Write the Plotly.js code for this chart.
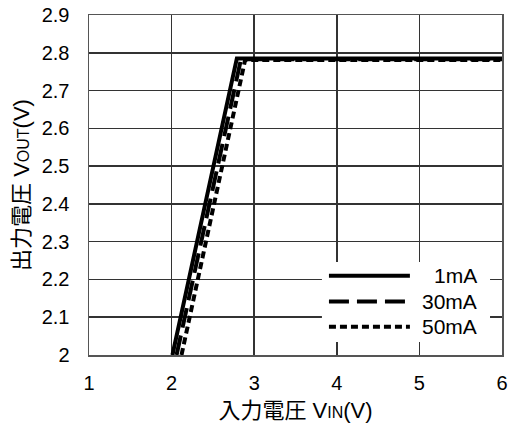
<!DOCTYPE html>
<html>
<head>
<meta charset="utf-8">
<script src="https://cdn.plot.ly/plotly-3.0.1.min.js"></script>
<style>html,body{margin:0;padding:0;background:#fff;}#chart{width:510px;height:432px;}</style>
</head>
<body>
<div id="chart"></div>
<script>
// Data
const seriesNames = ["1mA", "30mA", "50mA"];
const vin_1mA = [2.01, 2.79, 6.0];
const vout_1mA = [2.0, 2.785, 2.785];
const vin_30mA = [2.06, 2.84, 6.0];
const vout_30mA = [2.0, 2.783, 2.783];
const vin_50mA = [2.12, 2.89, 6.0];
const vout_50mA = [2.0, 2.781, 2.781];
const xTicks = [1, 2, 3, 4, 5, 6];
const yTicks = [2, 2.1, 2.2, 2.3, 2.4, 2.5, 2.6, 2.7, 2.8, 2.9];
const yTickText = ["2", "2.1", "2.2", "2.3", "2.4", "2.5", "2.6", "2.7", "2.8", "2.9"];

const FONT = "Liberation Sans, Arial, 'Noto Sans CJK JP', sans-serif";
const dashes = ["solid", "20px,8px", "7px,4px"];
const xs = [vin_1mA, vin_30mA, vin_50mA];
const ys = [vout_1mA, vout_30mA, vout_50mA];

const traces = seriesNames.map((n, i) => ({
  x: xs[i], y: ys[i], name: n, type: "scatter", mode: "lines",
  line: {color: "#000", width: 4, dash: dashes[i]},
  showlegend: false, cliponaxis: true
}));

// custom legend (box, sample lines, labels)
const legY = [0.233, 0.157, 0.083];
const shapes = [{
  type: "rect", xref: "paper", yref: "paper",
  x0: 0.564, x1: 0.971, y0: 0.038, y1: 0.2735,
  fillcolor: "#fff", line: {width: 0}, layer: "above"
}];
const annotations = [];
seriesNames.forEach((n, i) => {
  shapes.push({
    type: "line", xref: "paper", yref: "paper",
    x0: 0.581, x1: 0.777, y0: legY[i], y1: legY[i],
    line: {color: "#000", width: 4, dash: dashes[i]}, layer: "above"
  });
  annotations.push({
    xref: "paper", yref: "paper", x: 0.945, y: legY[i],
    xanchor: "right", yanchor: "middle", showarrow: false,
    text: n, font: {family: FONT, size: 21, color: "#000"}
  });
});

const layout = {
  width: 510, height: 432,
  margin: {l: 89, r: 8, t: 15, b: 77},
  paper_bgcolor: "#fff", plot_bgcolor: "#fff",
  font: {family: FONT, size: 20, color: "#000"},
  showlegend: false,
  xaxis: {
    range: [1, 6], tickvals: xTicks, ticktext: xTicks.map(String),
    showgrid: true, gridcolor: "#333", gridwidth: 1.5,
    zeroline: false, showline: true, linecolor: "#555", linewidth: 1.5, mirror: true,
    ticks: "", ticklabelstandoff: 9,
    tickfont: {family: FONT, size: 20, color: "#000"},
    title: {text: "入力電圧 V<span style=\"font-size:16px\">IN</span>(V)", font: {family: FONT, size: 22, color: "#000"}, standoff: 10}
  },
  yaxis: {
    range: [2, 2.9], tickvals: yTicks, ticktext: yTickText,
    showgrid: true, gridcolor: "#333", gridwidth: 1.5,
    zeroline: false, showline: true, linecolor: "#555", linewidth: 1.5, mirror: true,
    ticks: "", ticklabelstandoff: 14,
    tickfont: {family: FONT, size: 20, color: "#000"},
    title: {text: "出力電圧 V<span style=\"font-size:16px\">OUT</span>(V)", font: {family: FONT, size: 22, color: "#000"}, standoff: 6}
  },
  shapes: shapes,
  annotations: annotations
};

Plotly.newPlot("chart", traces, layout, {staticPlot: true, displayModeBar: false});
</script>
</body>
</html>
